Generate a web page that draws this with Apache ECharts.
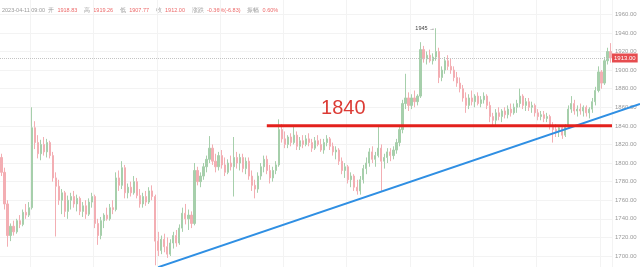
<!DOCTYPE html>
<html>
<head>
<meta charset="utf-8">
<script src="https://cdn.jsdelivr.net/npm/echarts/dist/echarts.min.js"></script>
<style>
  html, body { margin: 0; padding: 0; background: #ffffff; }
  #chart { width: 640px; height: 267px; }
</style>
</head>
<body>
<div id="chart"></div>
<script>
// Hourly gold candles: open / close / low / high
const opens = [
  1806,1790,1756,1722,1732,1726,1738,1734,1747,1744,1752,1838,1822,1810,1820,1812,1822,1808,1784,1775,
  1760,1768,1748,1760,1764,1756,1762,1748,1754,1745,1758,1764,1735,1722,1738,1744,1740,1752,1750,1784,
  1776,1795,1768,1774,1768,1780,1765,1756,1764,1758,1770,1764,1716,1706,1718,1710,1702,1714,1722,1714,
  1730,1746,1740,1744,1735,1792,1780,1786,1796,1804,1816,1802,1796,1808,1798,1790,1800,1796,1806,1800,
  1806,1794,1802,1786,1776,1772,1786,1796,1804,1792,1784,1792,1798,1836,1826,1820,1828,1822,1830,1818,
  1824,1820,1826,1822,1816,1824,1820,1814,1822,1826,1818,1812,1814,1802,1792,1796,1782,1786,1774,1770,
  1782,1794,1800,1812,1804,1808,1816,1802,1806,1812,1808,1814,1822,1836,1864,1870,1862,1870,1866,1872,
  1922,1912,1916,1910,1914,1920,1892,1900,1910,1904,1900,1892,1886,1880,1870,1862,1870,1866,1872,1864,
  1868,1872,1862,1850,1846,1854,1850,1856,1852,1858,1854,1860,1864,1872,1862,1866,1860,1862,1854,1850,
  1852,1848,1850,1840,1836,1834,1838,1830,1840,1858,1864,1856,1858,1856,1860,1854,1858,1866,1878,1898,
  1886,1910,1920
];
const closes = [
  1790,1756,1722,1732,1726,1738,1734,1747,1744,1752,1838,1822,1810,1820,1812,1822,1808,1784,1775,1760,
  1768,1748,1760,1764,1756,1762,1748,1754,1745,1758,1764,1735,1722,1738,1744,1740,1752,1750,1784,1776,
  1795,1768,1774,1768,1780,1765,1756,1764,1758,1770,1764,1716,1706,1718,1710,1702,1714,1722,1714,1730,
  1746,1740,1744,1735,1792,1780,1786,1796,1804,1816,1802,1796,1808,1798,1790,1800,1796,1806,1800,1806,
  1794,1802,1786,1776,1772,1786,1796,1804,1792,1784,1792,1798,1836,1826,1820,1828,1822,1830,1818,1824,
  1820,1826,1822,1816,1824,1820,1814,1822,1826,1818,1812,1814,1802,1792,1796,1782,1786,1774,1770,1782,
  1794,1800,1812,1804,1808,1816,1802,1806,1812,1808,1814,1822,1836,1864,1870,1862,1870,1866,1872,1922,
  1912,1916,1910,1914,1920,1892,1900,1910,1904,1900,1892,1886,1880,1870,1862,1870,1866,1872,1864,1868,
  1872,1862,1850,1846,1854,1850,1856,1852,1858,1854,1860,1864,1872,1862,1866,1860,1862,1854,1850,1852,
  1848,1850,1840,1836,1834,1838,1830,1840,1858,1864,1856,1858,1856,1860,1854,1858,1866,1878,1898,1886,
  1910,1920,1913
];
const lows = [
  1786,1750,1710,1716,1722,1724,1730,1732,1740,1742,1750,1815,1805,1803,1808,1806,1805,1780,1721,1755,
  1745,1742,1740,1750,1752,1748,1744,1742,1740,1743,1752,1730,1712,1718,1730,1738,1738,1745,1748,1770,
  1772,1762,1762,1764,1766,1762,1752,1752,1754,1756,1760,1690,1700,1702,1704,1698,1700,1708,1710,1712,
  1726,1734,1728,1730,1733,1776,1774,1782,1790,1800,1798,1790,1792,1794,1786,1788,1792,1764,1794,1792,
  1790,1788,1782,1770,1762,1768,1782,1790,1788,1778,1780,1788,1796,1822,1816,1816,1818,1820,1814,1814,
  1816,1818,1818,1812,1814,1818,1812,1810,1818,1814,1808,1804,1798,1788,1784,1778,1774,1770,1766,1766,
  1778,1788,1796,1800,1796,1806,1770,1794,1800,1802,1804,1810,1818,1832,1858,1856,1858,1860,1862,1870,
  1908,1906,1908,1906,1910,1886,1888,1896,1900,1896,1888,1882,1876,1866,1854,1858,1862,1860,1862,1860,
  1864,1858,1844,1840,1840,1846,1844,1848,1848,1850,1852,1854,1860,1858,1856,1856,1854,1850,1846,1846,
  1844,1844,1836,1822,1828,1828,1826,1828,1838,1854,1852,1850,1852,1850,1850,1848,1854,1862,1876,1880,
  1884,1906,1908
];
const highs = [
  1810,1795,1760,1735,1738,1740,1744,1750,1756,1758,1860,1845,1830,1825,1828,1826,1824,1812,1790,1782,
  1772,1770,1765,1768,1770,1766,1764,1758,1760,1762,1768,1766,1740,1742,1746,1752,1756,1760,1790,1792,
  1802,1798,1778,1780,1786,1784,1772,1768,1770,1774,1776,1766,1726,1722,1724,1720,1718,1726,1728,1734,
  1752,1756,1750,1748,1800,1796,1790,1800,1808,1829,1820,1810,1812,1814,1806,1804,1808,1828,1812,1810,
  1810,1806,1806,1792,1782,1790,1800,1808,1808,1798,1796,1802,1847,1842,1834,1830,1832,1840,1834,1828,
  1830,1830,1832,1826,1828,1830,1826,1826,1830,1828,1822,1818,1816,1806,1800,1798,1790,1788,1782,1786,
  1798,1806,1816,1818,1812,1840,1820,1810,1816,1816,1818,1826,1840,1868,1896,1876,1874,1878,1874,1930,
  1926,1920,1922,1918,1945,1924,1904,1914,1916,1912,1904,1898,1892,1884,1876,1874,1878,1874,1876,1872,
  1876,1874,1866,1854,1858,1860,1858,1860,1862,1864,1864,1868,1880,1874,1870,1870,1866,1864,1858,1856,
  1856,1854,1852,1844,1842,1840,1840,1842,1862,1872,1868,1862,1864,1862,1862,1860,1870,1882,1904,1900,
  1914,1924,1929
];

// Support level and rising trend line (anchors in category index / price)
const levelValue = 1840;
const levelStartIndex = 88;
const levelTextIndex = 106;
const trendFrom = [52, 1688];
const trendTo = [200, 1850.5];

// Header readout for the hovered bar
const hoverTime = '2023-04-11 09:00';
const hoverOpen = 1918.83, hoverHigh = 1919.26, hoverLow = 1907.77, hoverClose = 1912.00;
const hoverChange = '-0.36%(-6.83)';
const hoverAmplitude = '0.60%';

const categories = closes.map((_, i) => i);
const candles = closes.map((c, i) => [opens[i], c, lows[i], highs[i]]);
const lastClose = closes[closes.length - 1];
const maxHigh = Math.max(...highs);
const maxIdx = highs.indexOf(maxHigh);

const chart = echarts.init(document.getElementById('chart'), null, { renderer: 'canvas' });

const option = {
  animation: false,
  backgroundColor: '#ffffff',
  textStyle: { fontFamily: 'Liberation Sans, Arial, sans-serif' },
  grid: { left: 0, right: 28, top: -4.3, bottom: -7.6, containLabel: false, outerBoundsMode: 'none' },
  xAxis: {
    type: 'category',
    data: categories,
    boundaryGap: true,
    axisLine: { show: false },
    axisTick: { show: false },
    axisLabel: { show: false },
    splitLine: {
      show: true,
      interval: (idx) => (idx - 10) % 21 === 0,
      lineStyle: { color: '#f3f3f3', width: 1 }
    }
  },
  yAxis: {
    type: 'value',
    position: 'right',
    min: 1680,
    max: 1980,
    interval: 20,
    axisLine: { show: false },
    axisTick: { show: false },
    axisLabel: {
      fontSize: 6,
      color: '#9a9a9a',
      margin: 3,
      formatter: (v) => v.toFixed(2)
    },
    splitLine: { lineStyle: { color: '#f3f3f3', width: 1 } }
  },
  series: [{
    type: 'candlestick',
    data: candles,
    barWidth: '55%',
    itemStyle: {
      color: '#a6cfab',
      color0: '#f3aeb3',
      borderColor: '#a6cfab',
      borderColor0: '#f3aeb3',
      borderWidth: 1
    },
    markLine: {
      silent: true,
      symbol: 'none',
      data: [{ yAxis: lastClose }],
      lineStyle: { type: 'dotted', color: '#c4c4c4', width: 1 },
      label: {
        position: 'end',
        distance: 0,
        formatter: (p) => Number(p.value).toFixed(2),
        backgroundColor: '#e64c4f',
        color: '#ffffff',
        fontSize: 6,
        padding: [2, 2, 1, 2]
      }
    },
    markPoint: {
      silent: true,
      symbol: 'circle',
      symbolSize: 0,
      data: [{ coord: [maxIdx, maxHigh], value: maxHigh }],
      label: {
        show: true,
        position: 'left',
        distance: 1,
        formatter: (p) => p.value + ' \u2192',
        fontSize: 5.5,
        color: '#444444'
      }
    }
  }],
  graphic: [{
    type: 'text',
    left: 2,
    top: 4,
    style: {
      text: `{g|${hoverTime}  开} {r|${hoverOpen.toFixed(2)}}  {g|高} {r|${hoverHigh.toFixed(2)}}  {g|低} {r|${hoverLow.toFixed(2)}}  {g|收} {r|${hoverClose.toFixed(2)}}  {g|涨跌} {r|${hoverChange}}  {g|振幅} {r|${hoverAmplitude}}`,
      rich: {
        g: { fontSize: 5.5, fill: '#9a9a9a' },
        r: { fontSize: 5.5, fill: '#ec6a6a' }
      }
    }
  }]
};

chart.setOption(option);

// Overlay the support level and the trend line in pixel space
const gridRight = 640 - 28;
const lvStart = chart.convertToPixel({ seriesIndex: 0 }, [levelStartIndex, levelValue]);
const lvText = chart.convertToPixel({ seriesIndex: 0 }, [levelTextIndex, levelValue]);
const t1 = chart.convertToPixel({ seriesIndex: 0 }, trendFrom);
const t2 = chart.convertToPixel({ seriesIndex: 0 }, trendTo);
const slope = (t2[1] - t1[1]) / (t2[0] - t1[0]);
const trendEndX = 640;
const trendEndY = t2[1] + slope * (trendEndX - t2[0]);

chart.setOption({
  graphic: [
    option.graphic[0],
    {
      type: 'line',
      z: 100,
      shape: { x1: t1[0], y1: t1[1], x2: trendEndX, y2: trendEndY },
      style: { stroke: '#2f8fe3', lineWidth: 2 }
    },
    {
      type: 'line',
      z: 101,
      shape: { x1: lvStart[0], y1: lvStart[1], x2: gridRight, y2: lvStart[1] },
      style: { stroke: '#e3211c', lineWidth: 3 }
    },
    {
      type: 'text',
      z: 101,
      x: lvText[0],
      y: lvText[1] - 17,
      style: {
        text: String(levelValue),
        fontSize: 20,
        fill: '#dc3b35',
        textVerticalAlign: 'middle',
        fontFamily: 'Liberation Sans, Arial, sans-serif'
      }
    }
  ]
});
</script>
</body>
</html>
